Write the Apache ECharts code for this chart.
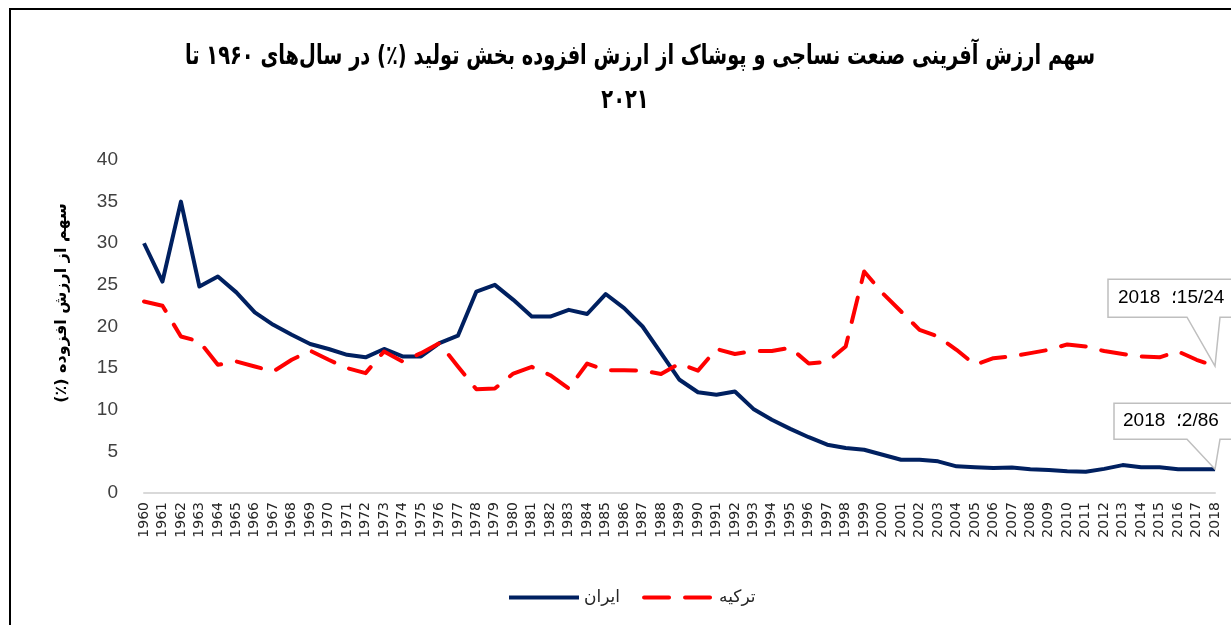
<!DOCTYPE html>
<html>
<head>
<meta charset="utf-8">
<script src="https://cdn.jsdelivr.net/npm/echarts@6/dist/echarts.min.js"></script>
<style>
    html, body { margin: 0; padding: 0; background: #fff; }
    #chartLine { width: 1231px; height: 625px; }
</style>
</head>
<body>
<div id="chartLine"></div>
<script>
    // سال ها
    var years = ['1960','1961','1962','1963','1964','1965','1966','1967','1968','1969',
        '1970','1971','1972','1973','1974','1975','1976','1977','1978','1979',
        '1980','1981','1982','1983','1984','1985','1986','1987','1988','1989',
        '1990','1991','1992','1993','1994','1995','1996','1997','1998','1999',
        '2000','2001','2002','2003','2004','2005','2006','2007','2008','2009',
        '2010','2011','2012','2013','2014','2015','2016','2017','2018'];

    // ایران
    var iran = [30.0, 25.4, 35.0, 24.8, 26.0, 24.1, 21.7, 20.2, 19.0, 17.9,
        17.3, 16.6, 16.3, 17.3, 16.4, 16.4, 18.0, 18.9, 24.2, 25.0,
        23.2, 21.2, 21.2, 22.0, 21.5, 23.9, 22.2, 20.0, 16.8, 13.6,
        12.1, 11.8, 12.2, 10.1, 8.8, 7.7, 6.7, 5.8, 5.4, 5.2,
        4.6, 4.0, 4.0, 3.8, 3.2, 3.1, 3.0, 3.05, 2.85, 2.75,
        2.6, 2.55, 2.9, 3.35, 3.1, 3.1, 2.86, 2.86, 2.86];

    // ترکیه
    var turkey = [23.0, 22.5, 18.8, 18.2, 15.4, 15.8, 15.2, 14.6, 16.0, 17.1,
        16.0, 15.0, 14.4, 17.0, 15.8, 16.8, 18.0, 15.2, 12.45, 12.55,
        14.35, 15.15, 14.15, 12.55, 15.55, 14.75, 14.75, 14.7, 14.3, 15.55,
        14.7, 17.3, 16.7, 17.05, 17.05, 17.45, 15.55, 15.75, 17.6, 26.6,
        24.0, 21.8, 19.6, 18.8, 17.2, 15.4, 16.2, 16.4, 16.8, 17.2,
        17.85, 17.6, 17.05, 16.7, 16.4, 16.3, 17.0, 16.0, 15.24];

    var seriesNames = ['ایران', 'ترکیه'];
    var titleLine1 = 'سهم ارزش آفرینی صنعت نساجی و پوشاک از ارزش افزوده بخش تولید (٪) در سال‌های ۱۹۶۰ تا';
    var titleLine2 = '۲۰۲۱';
    var yName = 'سهم از ارزش افزوده (٪)';

    var faFont = '"DejaVu Sans", sans-serif';
    var LRM = '\u200E', RLM = '\u200F';

    var chartLine = echarts.init(document.getElementById('chartLine'));

    chartLine.setOption({
        animation: false,
        backgroundColor: '#fff',
        legend: {
            data: seriesNames,
            left: 502,
            top: 584,
            itemWidth: 70,
            itemHeight: 14,
            itemGap: 22,
            itemStyle: { opacity: 0 },
            lineStyle: { width: 4 },
            textStyle: { fontFamily: faFont, fontSize: 17, color: '#262626' }
        },
        grid: {
            left: 144,
            right: 16,
            top: 160,
            bottom: 132
        },
        xAxis: {
            type: 'category',
            boundaryGap: false,
            data: years,
            axisLine: { lineStyle: { color: '#d9d9d9', width: 2 } },
            axisTick: { show: false },
            axisLabel: {
                interval: 0,
                rotate: 90,
                margin: 9,
                fontSize: 14,
                fontFamily: '"DejaVu Sans", sans-serif',
                color: '#262626'
            }
        },
        yAxis: {
            type: 'value',
            min: 0,
            max: 40,
            interval: 5,
            splitLine: { show: false },
            axisLine: { show: false },
            axisTick: { show: false },
            axisLabel: {
                margin: 26,
                fontSize: 19,
                fontFamily: '"Liberation Sans", sans-serif',
                color: '#404040'
            }
        },
        series: [
            {
                name: seriesNames[0],
                type: 'line',
                data: iran,
                symbol: 'none',
                lineStyle: { color: '#002060', width: 4, join: 'round' },
                itemStyle: { color: '#002060' }
            },
            {
                name: seriesNames[1],
                type: 'line',
                data: turkey,
                symbol: 'none',
                lineStyle: { color: '#ff0000', width: 4, type: [25, 16], cap: 'round', join: 'round' },
                itemStyle: { color: '#ff0000' }
            }
        ]
    });

    // callout for the last point of a series
    function callout(seriesIndex, values, top, bottom, left, textLeft) {
        var last = values.length - 1;
        var p = chartLine.convertToPixel({ seriesIndex: seriesIndex }, [last, values[last]]);
        var x = p[0], y = p[1];
        var txt = years[last] + '  ' + LRM + '؛' + LRM + values[last].toFixed(2).replace('.', '/');
        return [
            {
                type: 'polygon',
                z: 100,
                shape: {
                    points: [[x + left, y + top], [x + 60, y + top], [x + 60, y + bottom],
                        [x + 5, y + bottom], [x, y], [x - 28, y + bottom], [x + left, y + bottom]]
                },
                style: { fill: '#fff', stroke: '#bfbfbf', lineWidth: 1.5 }
            },
            {
                type: 'text',
                z: 101,
                x: x + textLeft,
                y: y + (top + bottom) / 2,
                style: {
                    text: txt,
                    fontSize: 19,
                    fontFamily: '"Liberation Sans", sans-serif',
                    fill: '#000',
                    align: 'left',
                    verticalAlign: 'middle'
                }
            }
        ];
    }

    var titleStyle = { fontFamily: faFont, fontSize: 27, fontWeight: 'bold', fill: '#000', align: 'center', verticalAlign: 'middle' };

    var graphics = [
        {
            // outer frame
            type: 'rect',
            z: 100,
            shape: { x: 10, y: 9, width: 1400, height: 800 },
            style: { fill: 'none', stroke: '#000', lineWidth: 2 }
        },
        {
            type: 'text',
            x: 640,
            y: 57,
            scaleX: 0.72,
            style: echarts.util.extend({ text: titleLine1 }, titleStyle)
        },
        {
            type: 'text',
            x: 625,
            y: 101,
            scaleX: 0.72,
            style: echarts.util.extend({ text: titleLine2 }, titleStyle)
        },
        {
            type: 'text',
            x: 62,
            y: 303,
            rotation: Math.PI / 2,
            style: {
                text: yName + RLM,
                fontSize: 16,
                fontWeight: 'bold',
                fontFamily: faFont,
                fill: '#000',
                align: 'center',
                verticalAlign: 'middle'
            }
        }
    ];
    graphics = graphics.concat(callout(1, turkey, -87, -49, -107, -97));
    graphics = graphics.concat(callout(0, iran, -66, -30, -101, -92));

    chartLine.setOption({ graphic: graphics });
</script>
</body>
</html>
